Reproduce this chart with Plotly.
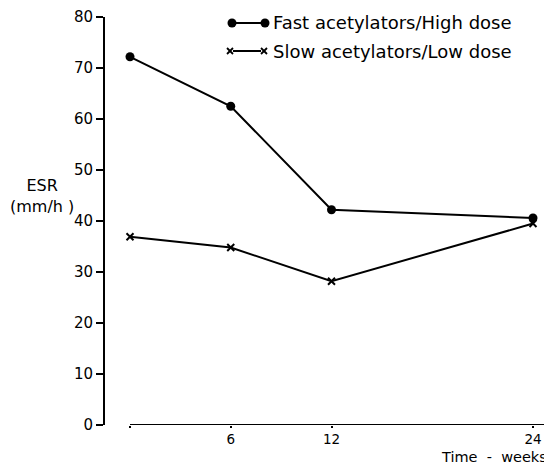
import plotly.graph_objects as go

weeks = [0, 6, 12, 24]
fast_high = [72.2, 62.5, 42.2, 40.6]
slow_low = [36.9, 34.8, 28.2, 39.5]
y_ticks = [0, 10, 20, 30, 40, 50, 60, 70, 80]
x_ticks = [0, 6, 12, 24]
x_tick_labels = ["", "6", "12", "24"]
series_names = ["Fast acetylators/High dose", "Slow acetylators/Low dose"]

# page is 552x464 but the html body has an 8px margin
OFF = 8
W, H = 552 - OFF, 464 - OFF
L, R, T, B = 105 - OFF, 0, 17 - OFF, 39
FONT = "DejaVu Sans, Verdana, sans-serif"

PLOT_W = 552 - 105
PLOT_H = 425 - 17

def px(xp):
    return (xp - 105) / PLOT_W

def py(yp):
    return (425 - yp) / PLOT_H

fig = go.Figure()
fig.add_trace(go.Scatter(x=weeks, y=fast_high, mode="lines+markers", name=series_names[0],
                         line=dict(color="black", width=2),
                         marker=dict(symbol="circle", size=9, color="black"),
                         cliponaxis=False, showlegend=False))
fig.add_trace(go.Scatter(x=weeks, y=slow_low, mode="lines+markers", name=series_names[1],
                         line=dict(color="black", width=2),
                         marker=dict(symbol="x-thin", size=7, color="black",
                                     line=dict(color="black", width=2)),
                         cliponaxis=False, showlegend=False))

xmin = -25 / (403 / 24)
xmax = 24 + 19 / (403 / 24)

shapes = []
# x-axis baseline starting at week 0
shapes.append(dict(type="line", xref="x", yref="y", x0=0, x1=xmax, y0=0, y1=0,
                   line=dict(color="black", width=2)))

# legend row 1: line with dots at both ends
y1 = py(23)
shapes.append(dict(type="line", xref="paper", yref="paper", x0=px(232), x1=px(265), y0=y1, y1=y1,
                   line=dict(color="black", width=2)))
for cx in (232, 265):
    shapes.append(dict(type="circle", xref="paper", yref="paper",
                       x0=px(cx - 4.5), x1=px(cx + 4.5), y0=py(23 + 4.5), y1=py(23 - 4.5),
                       fillcolor="black", line=dict(color="black", width=0)))
# legend row 2: line with x at both ends
y2 = py(51)
shapes.append(dict(type="line", xref="paper", yref="paper", x0=px(233), x1=px(261), y0=y2, y1=y2,
                   line=dict(color="black", width=2)))
for cx in (230, 264):
    for d in (1, -1):
        shapes.append(dict(type="line", xref="paper", yref="paper",
                           x0=px(cx - 3), x1=px(cx + 3), y0=py(51 - 3 * d), y1=py(51 + 3 * d),
                           line=dict(color="black", width=1.8)))

annotations = [
    dict(text=series_names[0], xref="paper", yref="paper", x=px(271), y=py(23),
         xanchor="left", yanchor="middle", showarrow=False, font=dict(size=18)),
    dict(text=series_names[1], xref="paper", yref="paper", x=px(271), y=py(51),
         xanchor="left", yanchor="middle", showarrow=False, font=dict(size=18)),
    dict(text="ESR<br>(mm/h )", xref="paper", yref="paper", x=px(42), y=py(196),
         xanchor="center", yanchor="middle", showarrow=False, align="center",
         font=dict(size=16)),
    dict(text="Time  -  weeks", xref="paper", yref="paper", x=px(548), y=py(456.5),
         xanchor="right", yanchor="middle", showarrow=False, font=dict(size=14.5),
         borderpad=0),
]

fig.update_layout(
    width=W, height=H,
    margin=dict(l=L, r=R, t=T, b=B, pad=0),
    paper_bgcolor="white", plot_bgcolor="white",
    font=dict(family=FONT, color="black", size=14),
    shapes=shapes, annotations=annotations,
    xaxis=dict(range=[xmin, xmax], tickvals=x_ticks, ticktext=x_tick_labels,
               showgrid=False, zeroline=False, showline=False,
               ticks="outside", ticklen=2, tickwidth=1.5, tickcolor="black",
               tickfont=dict(size=13.5)),
    yaxis=dict(range=[0, 80], tickvals=y_ticks, showgrid=False, zeroline=False,
               showline=True, linecolor="black", linewidth=2,
               ticks="outside", ticklen=7, tickwidth=1.5, tickcolor="black",
               tickfont=dict(size=15)),
)

fig.write_html("out.html")
